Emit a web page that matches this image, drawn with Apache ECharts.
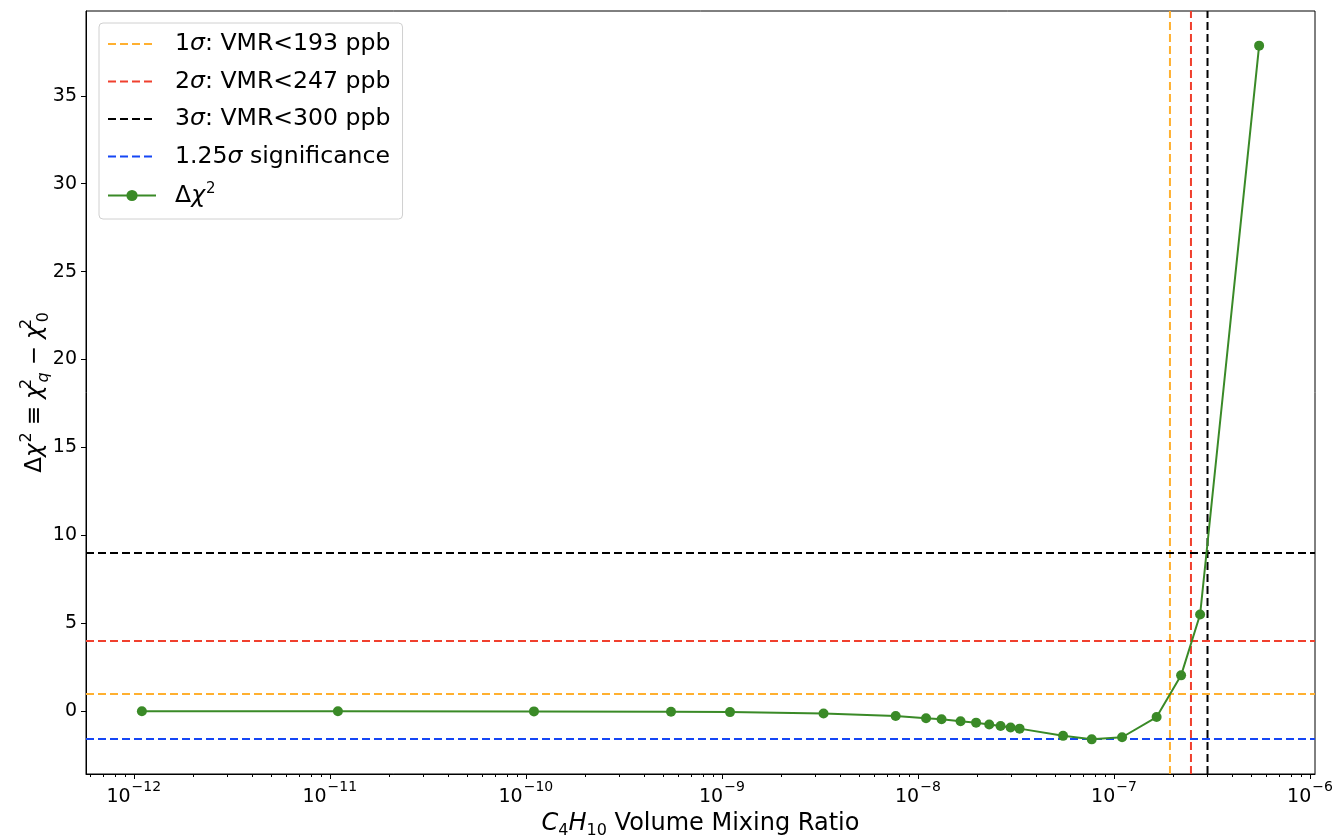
<!DOCTYPE html>
<html>
<head>
<meta charset="utf-8">
<script src="https://cdn.jsdelivr.net/npm/echarts@6/dist/echarts.min.js"></script>
<style>
  html, body { margin: 0; padding: 0; background: #fff; }
  #chart { width: 1339px; height: 835px; }
</style>
</head>
<body>
<div id="chart"></div>
<script>
// C4H10 volume mixing ratio grid and the resulting delta chi-square values
const vmr = [1.1e-12, 1.1e-11, 1.1e-10, 5.5e-10, 1.1e-9, 3.3e-9, 7.7e-9,
             1.1e-8, 1.32e-8, 1.65e-8, 1.98e-8, 2.31e-8, 2.64e-8, 2.97e-8, 3.3e-8,
             5.5e-8, 7.7e-8, 1.1e-7, 1.65e-7, 2.2e-7, 2.75e-7, 5.5e-7];
const deltaChi2 = [0.0, 0.0, -0.01, -0.03, -0.05, -0.13, -0.27,
                   -0.40, -0.46, -0.57, -0.65, -0.76, -0.84, -0.93, -0.99,
                   -1.40, -1.60, -1.48, -0.33, 2.04, 5.50, 37.85];

// Upper limits: sigma level, VMR limit (ppb) and the matching delta chi-square
const limitSigma = ['1', '2', '3'];
const limitPpb = [193, 247, 300];
const limitChi2 = [1, 4, 9];
const limitColors = ['#ffb030', '#f0402e', '#000000'];

// 1.25 sigma significance level
const signifSigma = '1.25';
const signifChi2 = -1.5625;
const signifColor = '#1546f5';

// Axis ticks
const xMajorExp = [-12, -11, -10, -9, -8, -7, -6];
const yTicks = [0, 5, 10, 15, 20, 25, 30, 35];

const FONT = 'DejaVu Sans';
const xMin = Math.pow(10, -12.2436);
const xMax = Math.pow(10, -5.9746);
const yMin = -3.57;
const yMax = 39.82;

const xMajor = xMajorExp.map(e => Math.pow(10, e));
const xMinor = [];
for (let e = -13; e <= -6; e++) {
  for (let k = 2; k <= 9; k++) {
    const v = k * Math.pow(10, e);
    if (v > xMin && v < xMax) xMinor.push(v);
  }
}

const dashed = [8, 4];
const limitName = i => `${limitSigma[i]}σ: VMR<${limitPpb[i]} ppb`;
const signifName = `${signifSigma}σ significance`;
const chiName = 'Δχ2';

const hLine = (value, color) => ({
  silent: true,
  symbol: 'none',
  animation: false,
  label: { show: false },
  lineStyle: { color: color, width: 2, type: dashed },
  data: [{ yAxis: value }]
});

const series = [];
limitPpb.forEach((ppb, i) => {
  const x = ppb * 1e-9;
  series.push({
    name: limitName(i),
    type: 'line',
    // vertical limit line spanning the full y range
    data: [[x, yMin], [x, yMax]],
    symbol: 'none',
    silent: true,
    z: 2,
    color: limitColors[i],
    lineStyle: { color: limitColors[i], width: 2, type: dashed },
    markLine: hLine(limitChi2[i], limitColors[i])
  });
});
series.push({
  name: signifName,
  type: 'line',
  data: [],
  symbol: 'none',
  z: 2,
  color: signifColor,
  lineStyle: { color: signifColor, width: 2, type: dashed },
  markLine: hLine(signifChi2, signifColor)
});
series.push({
  name: chiName,
  type: 'line',
  data: vmr.map((v, i) => [v, deltaChi2[i]]),
  symbol: 'circle',
  symbolSize: 10,
  showAllSymbol: true,
  z: 5,
  color: '#3a8a27',
  itemStyle: { color: '#3a8a27' },
  lineStyle: { color: '#3a8a27', width: 2 }
});

function legendText(name) {
  if (name === chiName) return '{n|Δ}{i|χ}{sp|2}';
  const m = name.match(/^([\d.]+)σ(.*)$/);
  return `{n|${m[1]}}{i|σ}{n|${m[2]}}`;
}

const noMarker = { opacity: 0, borderWidth: 0 };

const chart = echarts.init(document.getElementById('chart'), null, { renderer: 'canvas' });
chart.setOption({
  animation: false,
  backgroundColor: '#ffffff',
  textStyle: { fontFamily: FONT, color: '#000' },
  grid: {
    left: 86, right: 24, top: 11, bottom: 61,
    outerBoundsMode: 'none',
    containLabel: false,
    show: true, borderColor: '#000', borderWidth: 1, backgroundColor: 'transparent'
  },
  legend: {
    orient: 'vertical',
    left: 99, top: 23,
    padding: [9, 12, 10, 8],
    itemWidth: 48, itemHeight: 14, itemGap: 13.5,
    backgroundColor: 'rgba(255,255,255,0.8)',
    borderColor: '#d0d0d0', borderWidth: 1, borderRadius: 4,
    data: [
      { name: limitName(0), itemStyle: noMarker },
      { name: limitName(1), itemStyle: noMarker },
      { name: limitName(2), itemStyle: noMarker },
      { name: signifName, itemStyle: noMarker },
      { name: chiName }
    ],
    formatter: legendText,
    textStyle: {
      padding: [0, 0, 0, 14],
      rich: {
        n: { fontFamily: FONT, fontSize: 23.6, color: '#000' },
        i: { fontFamily: FONT, fontSize: 23.6, fontStyle: 'italic', color: '#000' },
        sp: { fontFamily: FONT, fontSize: 15, lineHeight: 15, padding: [0, 0, 12, 1], color: '#000' }
      }
    }
  },
  xAxis: [{
    type: 'log',
    logBase: 10,
    min: xMin, max: xMax,
    position: 'bottom',
    axisLine: { show: true, onZero: false, lineStyle: { color: '#000', width: 1 } },
    axisTick: { show: true, length: 5, lineStyle: { color: '#000' }, customValues: xMajor },
    splitLine: { show: false },
    minorTick: { show: false },
    axisLabel: {
      customValues: xMajor,
      margin: 10,
      formatter: v => `{b|10}{s|−${-Math.round(Math.log10(v))}}`,
      rich: {
        b: { fontFamily: FONT, fontSize: 19, lineHeight: 19, padding: [7, 0, 0, 0], color: '#000' },
        s: { fontFamily: FONT, fontSize: 14, lineHeight: 14, padding: [0, 0, 12, 1], color: '#000' }
      }
    },
    name: '{i|C}{sb|4}{i|H}{sb|10}{n| Volume Mixing Ratio}',
    nameLocation: 'middle',
    nameGap: 38,
    nameMoveOverlap: false,
    nameTextStyle: {
      rich: {
        n: { fontFamily: FONT, fontSize: 24, lineHeight: 24, padding: [2, 0, 3, 0], color: '#000' },
        i: { fontFamily: FONT, fontSize: 24, lineHeight: 24, fontStyle: 'italic', padding: [2, 0, 3, 0], color: '#000' },
        sb: { fontFamily: FONT, fontSize: 16, lineHeight: 16, padding: [13, 0, 0, 0], color: '#000' }
      }
    }
  }, {
    type: 'log',
    logBase: 10,
    min: xMin, max: xMax,
    position: 'bottom',
    axisLine: { show: false, onZero: false },
    axisTick: { show: true, length: 3, lineStyle: { color: '#000' }, customValues: xMinor },
    axisLabel: { show: false },
    splitLine: { show: false }
  }],
  yAxis: {
    type: 'value',
    min: yMin, max: yMax,
    axisLine: { show: true, lineStyle: { color: '#000', width: 1 } },
    axisTick: { show: true, length: 5, lineStyle: { color: '#000' }, customValues: yTicks },
    splitLine: { show: false },
    axisLabel: {
      customValues: yTicks,
      margin: 9,
      fontFamily: FONT, fontSize: 19, color: '#000'
    },
    name: '{n|Δ}{i|χ}{sp|2}{o|≡}{i|χ}{st|2}{sq|q}{o|−}{i|χ}{st|2}{sb|0}',
    nameLocation: 'middle',
    nameRotate: 90,
    nameGap: 39,
    nameMoveOverlap: false,
    nameTextStyle: {
      rich: {
        n: { fontFamily: FONT, fontSize: 23, lineHeight: 23, padding: [5, 0, 5, 0], color: '#000' },
        o: { fontFamily: FONT, fontSize: 23, lineHeight: 23, padding: [5, 7, 5, 7], color: '#000' },
        i: { fontFamily: FONT, fontSize: 23, lineHeight: 23, fontStyle: 'italic', padding: [5, 0, 5, 0], color: '#000' },
        sp: { fontFamily: FONT, fontSize: 16, lineHeight: 16, padding: [0, 0, 17, 1], color: '#000' },
        st: { fontFamily: FONT, fontSize: 16, lineHeight: 16, width: 1, padding: [0, 0, 17, 1], color: '#000' },
        sb: { fontFamily: FONT, fontSize: 16, lineHeight: 16, padding: [17, 0, 0, 1], color: '#000' },
        sq: { fontFamily: FONT, fontSize: 16, lineHeight: 16, fontStyle: 'italic', padding: [17, 0, 0, 1], color: '#000' }
      }
    }
  },
  series: series
});
</script>
</body>
</html>
